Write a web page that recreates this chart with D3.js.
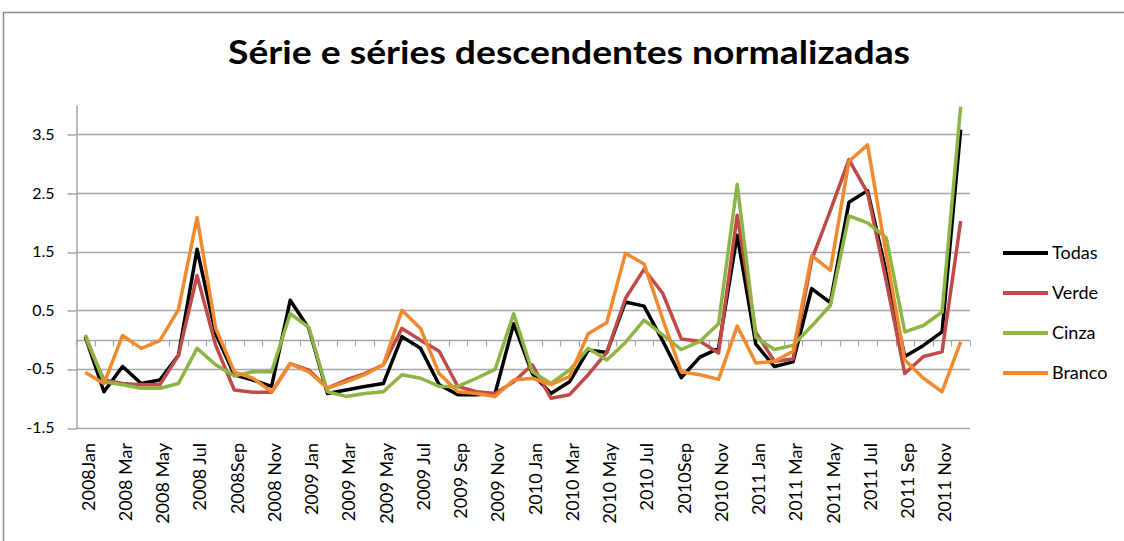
<!DOCTYPE html>
<html>
<head>
<meta charset="utf-8">
<script src="https://cdn.jsdelivr.net/npm/d3@7"></script>
<style>
  body { margin: 0; background: #fff; }
  text { font-family: Lato, "Open Sans", sans-serif; }
</style>
</head>
<body>
<div id="chart"></div>
<script>
// monthly categories, Jan 2008 .. Dec 2011
const categories = [
    "2008 Jan", "2008 Feb", "2008 Mar", "2008 Apr", "2008 May", "2008 Jun",
    "2008 Jul", "2008 Aug", "2008 Sep", "2008 Oct", "2008 Nov", "2008 Dec",
    "2009 Jan", "2009 Feb", "2009 Mar", "2009 Apr", "2009 May", "2009 Jun",
    "2009 Jul", "2009 Aug", "2009 Sep", "2009 Oct", "2009 Nov", "2009 Dec",
    "2010 Jan", "2010 Feb", "2010 Mar", "2010 Apr", "2010 May", "2010 Jun",
    "2010 Jul", "2010 Aug", "2010 Sep", "2010 Oct", "2010 Nov", "2010 Dec",
    "2011 Jan", "2011 Feb", "2011 Mar", "2011 Apr", "2011 May", "2011 Jun",
    "2011 Jul", "2011 Aug", "2011 Sep", "2011 Oct", "2011 Nov", "2011 Dec"
];

// labels shown on the axis (every second month)
const tickLabels = [
    "2008Jan", "2008 Mar", "2008 May", "2008 Jul", "2008Sep", "2008 Nov",
    "2009 Jan", "2009 Mar", "2009 May", "2009 Jul", "2009 Sep", "2009 Nov",
    "2010 Jan", "2010 Mar", "2010 May", "2010 Jul", "2010Sep", "2010 Nov",
    "2011 Jan", "2011 Mar", "2011 May", "2011 Jul", "2011 Sep", "2011 Nov"
];

const yTicks = [-1.5, -0.5, 0.5, 1.5, 2.5, 3.5];

const todas = [
    0.05, -0.89, -0.46, -0.75, -0.69, -0.27, 1.54, 0.10, -0.60, -0.69, -0.80, 0.67,
    0.19, -0.92, -0.86, -0.80, -0.75, 0.05, -0.15, -0.77, -0.94, -0.94, -0.92, 0.27,
    -0.58, -0.92, -0.72, -0.18, -0.22, 0.64, 0.57, -0.02, -0.65, -0.30, -0.15, 1.78,
    -0.08, -0.46, -0.38, 0.87, 0.63, 2.34, 2.54, 1.15, -0.29, -0.10, 0.13, 3.58
];

const verde = [
    0.02, -0.69, -0.75, -0.77, -0.77, -0.27, 1.09, -0.10, -0.86, -0.90, -0.90, -0.41,
    -0.52, -0.83, -0.69, -0.58, -0.43, 0.19, -0.01, -0.20, -0.80, -0.89, -0.92, -0.72,
    -0.43, -1.00, -0.94, -0.60, -0.22, 0.70, 1.20, 0.79, 0.01, -0.03, -0.23, 2.12,
    0.12, -0.37, -0.33, 1.36, 2.20, 3.07, 2.50, 1.00, -0.58, -0.29, -0.21, 2.02
];

const cinza = [
    0.08, -0.72, -0.77, -0.83, -0.83, -0.75, -0.15, -0.43, -0.62, -0.55, -0.55, 0.44,
    0.21, -0.89, -0.97, -0.92, -0.89, -0.60, -0.66, -0.80, -0.80, -0.66, -0.51, 0.44,
    -0.55, -0.75, -0.52, -0.15, -0.35, -0.05, 0.33, 0.08, -0.17, -0.03, 0.27, 2.65,
    0.04, -0.17, -0.10, 0.23, 0.58, 2.11, 1.99, 1.74, 0.13, 0.24, 0.47, 3.97
];

const branco = [
    -0.56, -0.75, 0.07, -0.15, -0.02, 0.51, 2.08, 0.19, -0.55, -0.66, -0.89, -0.41,
    -0.55, -0.83, -0.72, -0.60, -0.43, 0.50, 0.19, -0.58, -0.89, -0.92, -0.97, -0.69,
    -0.66, -0.77, -0.63, 0.10, 0.29, 1.47, 1.29, 0.35, -0.55, -0.60, -0.68, 0.23,
    -0.40, -0.37, -0.20, 1.43, 1.18, 3.04, 3.32, 1.45, -0.35, -0.66, -0.89, -0.04
];

const seriesNames = ["Todas", "Verde", "Cinza", "Branco"];
const seriesColors = ["#000000", "#BE4B48", "#8DB543", "#F08A2E"];
const seriesValues = [todas, verde, cinza, branco];

const width = 1124;
const height = 541;

const svg = d3.select('#chart').append('svg')
    .attr('width', width)
    .attr('height', height);

// chart area border (runs off the right and bottom of the picture)
svg.append('rect')
    .attr('x', 3.5)
    .attr('y', 12.5)
    .attr('width', 1140)
    .attr('height', 560)
    .attr('fill', '#fff')
    .attr('stroke', '#8c8c8c')
    .attr('stroke-width', 1.5);

svg.append('text')
    .attr('x', 569)
    .attr('y', 64)
    .attr('text-anchor', 'middle')
    .attr('font-size', 32)
    .attr('font-weight', 'bold')
    .attr('textLength', 682)
    .attr('lengthAdjust', 'spacingAndGlyphs')
    .text('Série e séries descendentes normalizadas');

const x = d3.scaleBand()
    .domain(categories)
    .range([76, 970]);
const bw = x.bandwidth();

const y = d3.scaleLinear()
    .domain([-1.5, 4])
    .range([427.5, 105]);

// horizontal gridlines
svg.append('g')
    .selectAll('line')
    .data(yTicks)
    .join('line')
    .attr('x1', 76)
    .attr('x2', 970)
    .attr('y1', d => Math.round(y(d)) + 0.5)
    .attr('y2', d => Math.round(y(d)) + 0.5)
    .attr('stroke', '#a6a6a6')
    .attr('stroke-width', 1.5);

// y axis
const yAxis = svg.append('g')
    .attr('transform', 'translate(76.5,0)')
    .call(d3.axisLeft(y)
        .tickValues(yTicks)
        .tickSize(9)
        .tickSizeOuter(0)
        .tickPadding(13)
        .tickFormat(d3.format('.1f')));
yAxis.select('.domain').attr('stroke', '#a6a6a6').attr('stroke-width', 1.5);
yAxis.selectAll('.tick line').attr('stroke', '#a6a6a6').attr('stroke-width', 1.5)
    .attr('transform', d => `translate(0,${Math.round(y(d)) + 0.5 - y(d)})`);
yAxis.selectAll('.tick text')
    .attr('font-family', 'Lato, "Open Sans", sans-serif')
    .attr('font-size', 16)
    .attr('fill', '#000')
    .text(d => d < 0 ? '-' + Math.abs(d).toFixed(1) : d.toFixed(1));

// horizontal axis through zero with ticks at band edges
const y0 = Math.round(y(0)) + 0.5;
const xAxis = svg.append('g');
xAxis.append('line')
    .attr('x1', 76)
    .attr('x2', 970)
    .attr('y1', y0)
    .attr('y2', y0)
    .attr('stroke', '#a6a6a6')
    .attr('stroke-width', 1.5);
xAxis.selectAll('.tk')
    .data(categories.map(c => x(c)).concat([x.range()[1]]))
    .join('line')
    .attr('class', 'tk')
    .attr('x1', d => Math.round(d) + 0.5)
    .attr('x2', d => Math.round(d) + 0.5)
    .attr('y1', y0)
    .attr('y2', y0 + 6)
    .attr('stroke', '#a6a6a6')
    .attr('stroke-width', 1.2);

// rotated month labels below the plot
svg.append('g')
    .selectAll('text')
    .data(tickLabels)
    .join('text')
    .attr('transform', (d, i) => `translate(${x(categories[i * 2]) + bw / 2 + 3},443) rotate(-90)`)
    .attr('text-anchor', 'end')
    .attr('dy', '0.35em')
    .attr('font-size', 18)
    .attr('fill', '#000')
    .text(d => d);

// series lines, later series drawn on top
const line = d3.line()
    .x((d, i) => x(categories[i]) + bw / 2)
    .y(d => y(d));

svg.append('g')
    .selectAll('path')
    .data(seriesValues)
    .join('path')
    .attr('d', d => line(d))
    .attr('fill', 'none')
    .attr('stroke', (d, i) => seriesColors[i])
    .attr('stroke-width', 3.5)
    .attr('stroke-linejoin', 'round');

// legend
const legend = svg.append('g')
    .selectAll('g')
    .data(seriesNames)
    .join('g')
    .attr('transform', (d, i) => `translate(1003,${253 + i * 40})`);

legend.append('line')
    .attr('x1', 0)
    .attr('x2', 45)
    .attr('stroke', (d, i) => seriesColors[i])
    .attr('stroke-width', 4);

legend.append('text')
    .attr('x', 49)
    .attr('dy', '0.35em')
    .attr('font-size', 18)
    .attr('fill', '#000')
    .text(d => d);
</script>
</body>
</html>
